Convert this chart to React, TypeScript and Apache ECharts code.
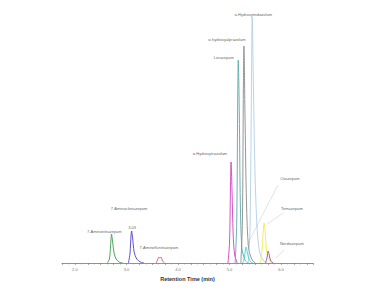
import React, { useEffect, useRef } from "react";
import * as echarts from "echarts";

// Retention time (min) vs detector response (arbitrary units)
const aminonitrazepam = [[2.63,0],[2.67,4],[2.70,23],[2.71,29],[2.73,22],[2.76,10],[2.80,4],[2.86,1],[2.93,0]];
const aminoclonazepam = [[3.04,0],[3.07,10],[3.09,28],[3.10,32],[3.12,25],[3.15,11],[3.20,4],[3.27,1],[3.34,0]];
const aminoflunitrazepam = [[3.58,0],[3.61,4],[3.63,6],[3.65,5],[3.67,6],[3.70,2],[3.74,0]];
const hydroxytriazolam = [[4.97,0],[5.00,20],[5.02,80],[5.03,101],[5.05,70],[5.07,30],[5.10,8],[5.15,0]];
const lorazepam = [[5.11,0],[5.14,40],[5.16,170],[5.17,203],[5.19,150],[5.21,60],[5.24,15],[5.30,3],[5.36,0]];
const hydroxyalprazolam = [[5.22,0],[5.25,40],[5.27,180],[5.28,217],[5.30,150],[5.33,60],[5.37,15],[5.44,3],[5.50,0]];
const hydroxymidazolam = [[5.37,0],[5.40,40],[5.43,200],[5.44,246],[5.46,190],[5.49,100],[5.53,40],[5.58,12],[5.65,3],[5.72,0]];
const oxazepam = [[5.26,0],[5.29,6],[5.31,14],[5.32,16],[5.34,12],[5.37,5],[5.41,1],[5.46,0]];
const temazepam = [[5.60,0],[5.63,12],[5.66,36],[5.67,40],[5.69,32],[5.72,12],[5.76,3],[5.82,0]];
const nordiazepam = [[5.70,0],[5.73,6],[5.75,12],[5.77,8],[5.80,2],[5.85,0]];

const annotations = [
  { name: "α-Hydroxymidazolam", value: [5.46, 249] },
  { name: "α-hydroxyalprazolam", value: [4.95, 224] },
  { name: "Lorazepam", value: [4.89, 206] },
  { name: "α-Hydroxytriazolam", value: [4.62, 110] },
  { name: "Oxazepam", value: [6.17, 85] },
  { name: "Temazepam", value: [6.21, 55] },
  { name: "Nordiazepam", value: [6.21, 20] },
  { name: "7-Aminoclonazepam", value: [3.05, 55] },
  { name: "7-Aminonitrazepam", value: [2.57, 32] },
  { name: "3.03", value: [3.11, 36] },
  { name: "7-Aminoflunitrazepam", value: [3.63, 16] },
];

const leaders = [
  { coords: [[5.94, 78], [5.34, 18]] },
  { coords: [[6.04, 50], [5.73, 39]] },
  { coords: [[6.06, 13], [5.90, 5]] },
];

const traces = [
  { name: "7-Aminonitrazepam", data: aminonitrazepam, color: "#3a9e48" },
  { name: "7-Aminoclonazepam", data: aminoclonazepam, color: "#4a40c8" },
  { name: "7-Aminoflunitrazepam", data: aminoflunitrazepam, color: "#d05a5a" },
  { name: "α-Hydroxytriazolam", data: hydroxytriazolam, color: "#d040c0" },
  { name: "Lorazepam", data: lorazepam, color: "#5aa8a8" },
  { name: "α-hydroxyalprazolam", data: hydroxyalprazolam, color: "#8a8a8a" },
  { name: "α-Hydroxymidazolam", data: hydroxymidazolam, color: "#b0cfe6" },
  { name: "Oxazepam", data: oxazepam, color: "#40d4d8" },
  { name: "Temazepam", data: temazepam, color: "#f0ec50" },
  { name: "Nordiazepam", data: nordiazepam, color: "#9a4aa8" },
];

export default function App() {
  const ref = useRef<HTMLDivElement>(null);
  useEffect(() => {
    if (!ref.current) return;
    const chart = echarts.init(ref.current, undefined, { renderer: "svg" });
    chart.setOption({
      animation: false,
      backgroundColor: "#ffffff",
      textStyle: { fontFamily: "Liberation Sans, Arial, sans-serif" },
      grid: { left: 62, right: 79, top: 13, bottom: 37 },
      xAxis: {
        type: "value",
        min: 1.75,
        max: 6.62,
        interval: 0.25,
        name: "Retention Time (min)",
        nameLocation: "middle",
        nameGap: 13,
        nameTextStyle: { fontSize: 5.5, fontWeight: "bold", color: "#333" },
        axisLine: { lineStyle: { color: "#777", width: 0.8 } },
        axisTick: { show: true, length: 2, lineStyle: { color: "#777", width: 0.6 } },
        minorTick: { show: true, splitNumber: 2, length: 1.5, lineStyle: { color: "#888", width: 0.5 } },
        axisLabel: {
          fontSize: 4,
          color: "#777",
          margin: 4,
          showMinLabel: true,
          showMaxLabel: false,
          formatter: (v: number) => (Math.abs(v - Math.round(v)) < 1e-6 ? v.toFixed(1) : ""),
        },
        splitLine: { show: false },
      },
      yAxis: {
        type: "value",
        min: 0,
        max: 250,
        show: false,
      },
      series: [
        ...traces.map((t) => ({
          type: "line",
          name: t.name,
          data: t.data,
          smooth: 0.3,
          symbol: "none",
          lineStyle: { color: t.color, width: 0.9 },
          z: 3,
        })),
        {
          type: "lines",
          coordinateSystem: "cartesian2d",
          data: leaders,
          lineStyle: { color: "#8aa0c0", width: 0.6 },
          z: 4,
        },
        {
          type: "scatter",
          data: annotations,
          symbolSize: 1,
          itemStyle: { color: "rgba(0,0,0,0)" },
          label: {
            show: true,
            position: "inside",
            formatter: (p: any) => p.name,
            fontSize: 4,
            color: "#333",
          },
          z: 5,
        },
      ],
    });
    return () => chart.dispose();
  }, []);
  return (
    <div
      ref={ref}
      style={{ position: "fixed", left: 0, top: 0, width: 392, height: 300 }}
    />
  );
}
